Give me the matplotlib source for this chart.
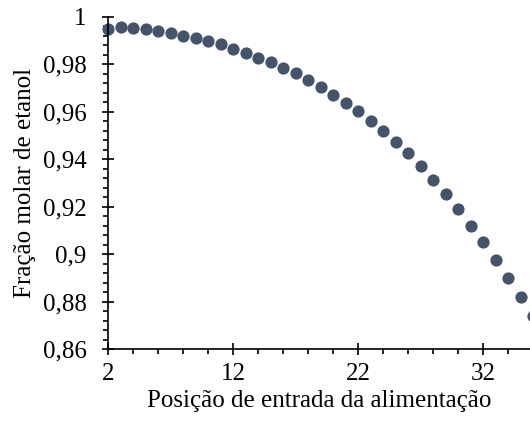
import matplotlib
matplotlib.use("Agg")
import matplotlib.pyplot as plt
from matplotlib.ticker import MultipleLocator, FuncFormatter

# feed stage positions and ethanol mole fraction
posicao = list(range(2, 37))
fracao_etanol = [
    0.9948, 0.9955, 0.9953, 0.9948, 0.9940, 0.9930, 0.9920, 0.9909, 0.9897, 0.9883,
    0.9863, 0.9846, 0.9827, 0.9808, 0.9783, 0.9761, 0.9735, 0.9703, 0.9672, 0.9638,
    0.9601, 0.9562, 0.9518, 0.9473, 0.9425, 0.9370, 0.9313, 0.9253, 0.9190, 0.9120,
    0.9050, 0.8974, 0.8898, 0.8819, 0.8738,
]

x_ticks = [2, 12, 22, 32]
y_ticks = [0.86, 0.88, 0.90, 0.92, 0.94, 0.96, 0.98, 1.0]

plt.rcParams['font.family'] = ['Liberation Serif', 'DejaVu Serif']

fig = plt.figure(figsize=(5.3, 4.25), dpi=100)
# axes box in figure fractions: spine at x=108px, bottom at y=349px, top at 16.7px
ax = fig.add_axes([0.2038, 0.1788, 0.7962, 0.7819])

ax.plot(posicao, fracao_etanol, 'o', color='#44546A', markersize=8.8,
        markeredgewidth=0, clip_on=False)

ax.set_xlim(2, 35.76)
ax.set_ylim(0.86, 1.0)
ax.set_xticks(x_ticks)
ax.set_yticks(y_ticks)
ax.xaxis.set_minor_locator(MultipleLocator(2))
ax.yaxis.set_minor_locator(MultipleLocator(0.004))

fmt = FuncFormatter(lambda v, pos: f"{v:g}".replace('.', ','))
ax.yaxis.set_major_formatter(fmt)

for s in ['top', 'right']:
    ax.spines[s].set_visible(False)
for s in ['left', 'bottom']:
    ax.spines[s].set_linewidth(1.2)

ax.tick_params(which='major', direction='inout', length=8, width=1.2,
               labelsize=18)
ax.tick_params(axis='x', which='major', pad=6.3)
ax.tick_params(axis='y', which='major', pad=11.5)
ax.tick_params(which='minor', direction='out', length=3.6, width=1.2)

ax.set_xlabel("Posição de entrada da alimentação", fontsize=18, labelpad=3.6)
ax.set_ylabel("Fração molar de etanol", fontsize=18, labelpad=4.8)

fig.savefig("out.png", dpi=100)
